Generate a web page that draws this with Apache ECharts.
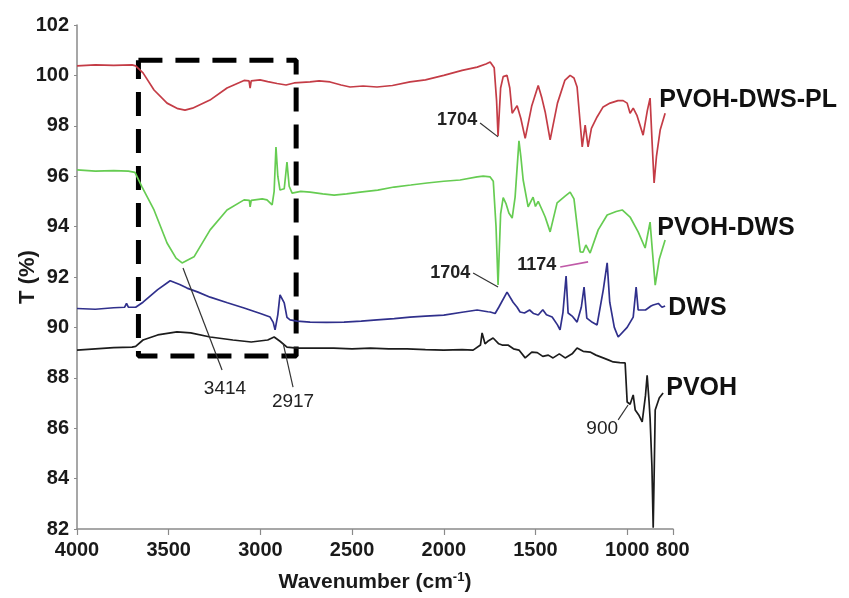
<!DOCTYPE html>
<html><head><meta charset="utf-8">
<script src="https://cdn.jsdelivr.net/npm/echarts@6/dist/echarts.min.js"></script>
<style>html,body{margin:0;padding:0;background:#fff}#c{width:849px;height:598px}</style>
</head><body><div id="c"></div>
<script>
// ---- axis ticks ----
const xTicks = [4000, 3500, 3000, 2500, 2000, 1500, 1000, 750];
const xTickLabels = ['4000', '3500', '3000', '2500', '2000', '1500', '1000', '800'];
const yTicks = [82, 84, 86, 88, 90, 92, 94, 96, 98, 100, 102];

// ---- series (wavenumber, %T) ----
const seriesNames = ['PVOH-DWS-PL', 'PVOH-DWS', 'DWS', 'PVOH'];
const seriesColors = ['#c43c46', '#66cc52', '#30308c', '#1c1c1c'];

const pvohDwsPl = [[4000,100.38],[3900,100.42],[3800,100.4],[3700,100.42],[3680,100.38],[3640,100.1],[3580,99.42],[3509,98.9],[3450,98.68],[3411,98.62],[3370,98.7],[3275,99.02],[3182,99.5],[3089,99.8],[3062,99.78],[3056,99.5],[3050,99.78],[3002,99.82],[2960,99.75],[2909,99.68],[2860,99.62],[2816,99.7],[2729,99.74],[2680,99.78],[2620,99.74],[2560,99.62],[2511,99.54],[2440,99.58],[2364,99.54],[2280,99.6],[2184,99.74],[2100,99.82],[2000,100.0],[1900,100.2],[1818,100.33],[1770,100.45],[1747,100.53],[1725,100.3],[1712,99.0],[1704,97.6],[1690,99.5],[1676,99.95],[1655,100.0],[1640,99.5],[1627,98.5],[1600,98.8],[1580,98.3],[1556,97.5],[1520,98.8],[1485,99.6],[1465,99.1],[1447,98.55],[1420,97.44],[1380,98.9],[1340,99.8],[1311,100.0],[1290,99.9],[1273,99.54],[1245,97.16],[1229,98.03],[1213,97.16],[1195,97.9],[1164,98.35],[1131,98.75],[1093,98.9],[1050,99.0],[1022,99.0],[1000,98.9],[984,98.5],[967,98.7],[946,98.4],[913,97.63],[890,98.6],[875,99.1],[865,97.5],[853,95.73],[840,96.8],[820,97.83],[793,98.5]];

const pvohDws = [[4000,96.25],[3900,96.2],[3800,96.22],[3720,96.2],[3684,96.15],[3645,95.57],[3580,94.66],[3509,93.35],[3460,92.75],[3427,92.56],[3362,92.8],[3274,93.87],[3182,94.66],[3089,95.06],[3060,95.04],[3056,94.78],[3050,95.04],[2990,95.1],[2964,95.06],[2936,94.86],[2925,95.4],[2915,97.16],[2905,96.0],[2893,95.45],[2870,95.5],[2855,96.56],[2843,95.6],[2827,95.33],[2780,95.4],[2729,95.37],[2660,95.3],[2598,95.25],[2530,95.3],[2456,95.37],[2360,95.45],[2271,95.57],[2180,95.65],[2091,95.73],[2000,95.8],[1911,95.85],[1818,95.97],[1785,96.0],[1747,95.97],[1730,95.8],[1715,94.0],[1704,91.68],[1690,94.5],[1676,95.15],[1660,94.9],[1645,94.54],[1627,94.34],[1611,95.17],[1590,97.4],[1580,96.8],[1567,95.85],[1540,94.78],[1513,95.17],[1500,94.8],[1485,95.0],[1460,94.6],[1447,94.38],[1420,93.79],[1382,94.94],[1340,95.2],[1311,95.37],[1290,95.1],[1256,93.0],[1240,92.99],[1225,93.27],[1202,92.95],[1158,93.87],[1109,94.46],[1060,94.6],[1027,94.66],[984,94.38],[940,93.79],[902,93.15],[875,94.18],[862,93.0],[847,91.68],[825,92.7],[793,93.47]];

const dws = [[4000,90.75],[3900,90.72],[3800,90.78],[3740,90.8],[3730,90.95],[3720,90.8],[3680,90.8],[3640,91.0],[3560,91.5],[3492,91.85],[3440,91.7],[3400,91.56],[3340,91.4],[3274,91.2],[3180,90.98],[3089,90.77],[3000,90.55],[2947,90.41],[2930,90.2],[2920,89.9],[2905,90.5],[2893,91.29],[2870,90.97],[2855,90.4],[2838,90.3],[2800,90.25],[2729,90.21],[2640,90.2],[2544,90.21],[2450,90.25],[2364,90.3],[2270,90.35],[2184,90.41],[2100,90.45],[2000,90.49],[1900,90.6],[1818,90.69],[1760,90.62],[1747,90.61],[1720,90.55],[1700,90.8],[1655,91.4],[1622,91.0],[1600,90.8],[1584,90.61],[1560,90.57],[1532,90.69],[1510,90.55],[1485,90.49],[1460,90.7],[1440,90.5],[1409,90.41],[1380,90.1],[1366,89.9],[1350,90.6],[1333,92.04],[1322,90.57],[1300,90.45],[1273,90.21],[1250,90.8],[1235,91.6],[1220,90.37],[1190,90.2],[1164,90.1],[1130,91.5],[1109,92.56],[1095,91.0],[1070,90.0],[1049,89.62],[1000,90.0],[967,90.41],[951,91.6],[940,90.69],[900,90.69],[870,90.85],[858,90.89],[830,90.95],[810,90.8],[793,90.85]];

const pvoh = [[4000,89.1],[3900,89.15],[3800,89.2],[3700,89.22],[3680,89.25],[3640,89.5],[3560,89.7],[3455,89.82],[3380,89.78],[3274,89.62],[3150,89.5],[3050,89.42],[2960,89.5],[2925,89.62],[2893,89.45],[2855,89.22],[2800,89.18],[2700,89.18],[2600,89.18],[2500,89.15],[2400,89.18],[2300,89.15],[2200,89.15],[2100,89.12],[2000,89.1],[1900,89.12],[1840,89.1],[1800,89.3],[1791,89.78],[1775,89.35],[1760,89.45],[1731,89.58],[1700,89.35],[1682,89.3],[1650,89.3],[1620,89.15],[1590,89.1],[1556,88.79],[1520,89.02],[1490,89.0],[1460,88.85],[1430,88.9],[1404,88.79],[1370,88.95],[1338,88.79],[1300,88.95],[1273,89.18],[1240,89.05],[1202,89.02],[1170,88.9],[1131,88.79],[1100,88.7],[1076,88.63],[1040,88.6],[1011,88.59],[1000,87.04],[984,86.95],[967,87.32],[956,86.72],[935,86.5],[918,86.25],[900,87.3],[891,88.1],[880,87.0],[875,86.4],[865,84.5],[858,82.05],[852,84.5],[847,86.72],[825,87.2],[804,87.4]];

// ---- annotations (in data coordinates) ----
const boxCorners = [[3665,100.6],[2805,100.6],[2805,88.87],[3665,88.87],[3665,100.6]];
const seriesLabelPos = [[825,99.02],[836,93.94],[776,90.77],[787,87.6]];
const peakTexts = ['1704', '1704', '1174', '3414', '2917', '900'];
const peakTextPos = [[1818,98.23],[1856,92.16],[1387,92.48],[3193,87.56],[2822,87.04],[1136,85.97]];
const peakLeaders = [
  [[1802,98.11],[1704,97.56]],
  [[1840,92.16],[1704,91.6]],
  [[1365,92.4],[1213,92.6]],
  [[3422,92.36],[3209,88.31]],
  [[2876,89.38],[2822,87.63]],
  [[1049,86.33],[995,86.92]]
];
const leaderColors = ['#333','#333','#c05aa8','#333','#333','#333'];

const FONT = '"Liberation Sans", Arial, Helvetica, sans-serif';
const chart = echarts.init(document.getElementById('c'), null, {renderer: 'canvas'});
const dataSets = [pvohDwsPl, pvohDws, dws, pvoh];

const series = dataSets.map((d, i) => ({
  name: seriesNames[i], type: 'line', data: d, showSymbol: false, symbol: 'none',
  lineStyle: {color: seriesColors[i], width: 1.7}, itemStyle: {color: seriesColors[i]},
  clip: false, z: 3
}));
series.push({
  name: 'box', type: 'line', data: boxCorners, symbol: 'none', clip: false, z: 2,
  lineStyle: {color: '#000', width: 5, type: [24, 13]}
});

chart.setOption({
  animation: false,
  backgroundColor: '#fff',
  grid: {left: 77, right: 176, top: 25, bottom: 69, containLabel: false, outerBoundsMode: 'none'},
  xAxis: {
    type: 'value', min: 750, max: 4000, inverse: true,
    axisLine: {show: true, lineStyle: {color: '#8a8a8a', width: 1.5}},
    axisTick: {show: true, length: 6, customValues: xTicks, lineStyle: {color: '#8a8a8a', width: 1.2}},
    axisLabel: {customValues: xTicks, formatter: v => xTickLabels[xTicks.indexOf(v)] || '',
      fontSize: 20, fontWeight: 'bold', color: '#1a1a1a', fontFamily: FONT, margin: 11},
    splitLine: {show: false},
    name: 'Wavenumber (cm{sup|-1})', nameLocation: 'middle', nameGap: 42, nameMoveOverlap: false,
    nameTextStyle: {fontSize: 21, fontWeight: 'bold', color: '#1a1a1a', fontFamily: FONT,
      rich: {sup: {fontSize: 13, fontWeight: 'bold', color: '#1a1a1a', fontFamily: FONT, verticalAlign: 'top', padding: [0, 0, 10, 0]}}}
  },
  yAxis: {
    type: 'value', min: 82, max: 102, interval: 2,
    axisLine: {show: true, lineStyle: {color: '#8a8a8a', width: 1.5}},
    axisTick: {show: true, length: 3, lineStyle: {color: '#8a8a8a'}},
    axisLabel: {fontSize: 20, fontWeight: 'bold', color: '#1a1a1a', fontFamily: FONT, margin: 8},
    splitLine: {show: false},
    name: 'T (%)', nameLocation: 'middle', nameRotate: 90, nameGap: 38, nameMoveOverlap: false,
    nameTextStyle: {fontSize: 22, fontWeight: 'bold', color: '#1a1a1a', fontFamily: FONT}
  },
  series: series
});

function px(p) { return chart.convertToPixel({gridIndex: 0}, p); }
const graphics = [];
seriesLabelPos.forEach((p, i) => {
  const q = px(p);
  graphics.push({type: 'text', z: 10, style: {text: seriesNames[i], x: q[0], y: q[1],
    font: 'bold 25px ' + FONT, fill: '#111', align: 'left', verticalAlign: 'middle',
    textAlign: 'left', textVerticalAlign: 'middle'}});
});
peakLeaders.forEach((seg, i) => {
  const a = px(seg[0]), b = px(seg[1]);
  graphics.push({type: 'line', z: 9, shape: {x1: a[0], y1: a[1], x2: b[0], y2: b[1]},
    style: {stroke: leaderColors[i], lineWidth: i === 2 ? 1.6 : 1.2}});
});
peakTexts.forEach((t, i) => {
  const q = px(peakTextPos[i]);
  const bold = i < 3;
  const align = bold ? 'right' : 'center';
  graphics.push({type: 'text', z: 10, style: {text: t, x: q[0], y: q[1],
    font: (bold ? 'bold 18px ' : '19px ') + FONT, fill: '#222',
    align: align, verticalAlign: 'middle', textAlign: align, textVerticalAlign: 'middle'}});
});
chart.setOption({graphic: graphics});
</script></body></html>
